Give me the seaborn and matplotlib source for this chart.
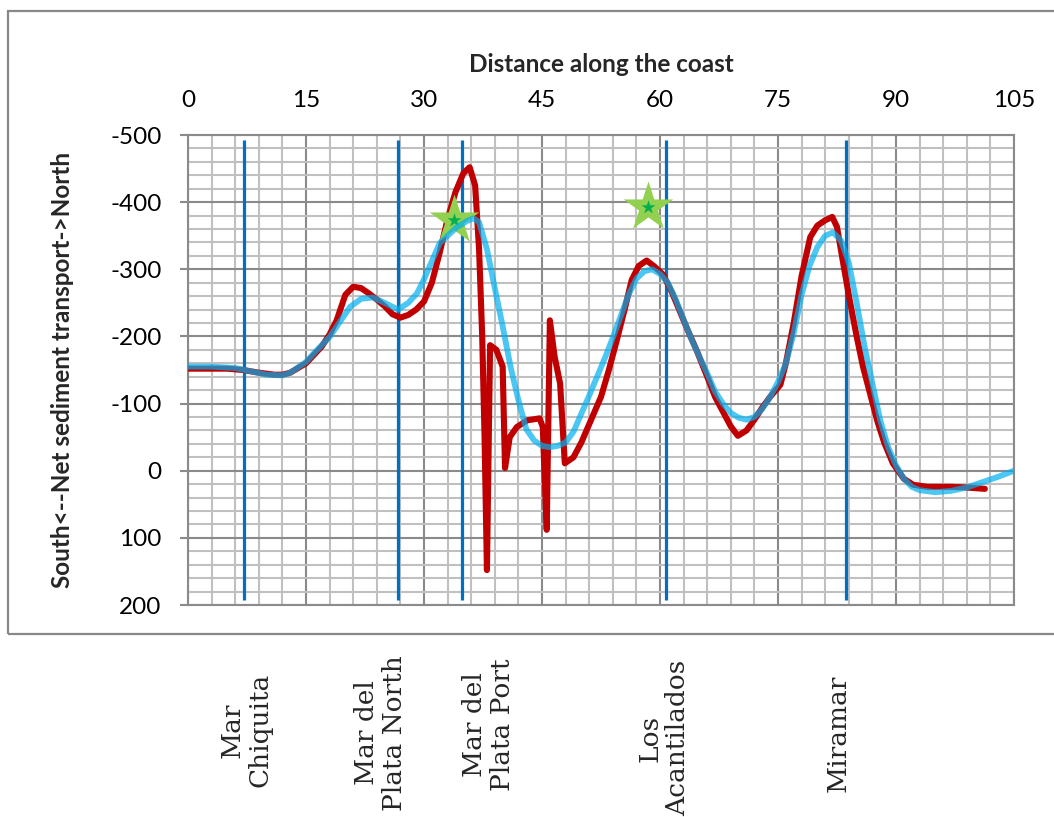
import numpy as np
import pandas as pd
import matplotlib
matplotlib.use("Agg")
import matplotlib.pyplot as plt
from matplotlib.ticker import MultipleLocator, FixedLocator
from matplotlib.patches import Rectangle
import seaborn as sns

# ---------------- data ----------------
blue_x = [0, 3, 6, 8, 10, 12, 13, 15, 16, 17, 18, 19.5, 20.6, 22, 23.5, 25, 26.7,
          28, 29.1, 30, 32, 34.2, 35.5, 36.3, 37, 38, 39, 40, 41, 42, 43, 44, 45, 46,
          47, 48, 49, 50, 51, 52, 53, 54, 55, 56, 57, 58, 59, 60, 61, 62, 63, 64, 65,
          66, 67, 68, 69, 70, 71, 72, 73, 74, 75, 76, 77, 78, 79, 80, 81, 82, 83, 84,
          85, 86, 87, 88, 89, 90, 91, 92, 93, 95, 97, 99, 101, 103, 105]
blue_y = [-155, -155, -153, -148, -143, -142, -146, -162, -175, -187, -199, -225, -244,
          -256, -258, -250, -240, -250, -264, -285, -339, -363, -372, -376, -370, -330,
          -272, -215, -155, -105, -62, -45, -37, -35, -37, -42, -58, -85, -112, -140,
          -168, -198, -230, -262, -286, -297, -300, -293, -280, -255, -225, -196, -170,
          -145, -118, -100, -86, -79, -76, -80, -92, -110, -132, -160, -205, -262, -305,
          -333, -350, -355, -343, -310, -250, -185, -130, -75, -35, -8, 12, 24, 29, 32,
          30, 25, 17, 9, 0]

red_x = [0, 5, 7, 9, 11, 12, 13, 15, 17, 18, 18.9, 20, 21, 22, 23, 24, 25, 26, 27, 28,
         29, 30, 31, 32, 33, 34, 35, 35.8, 36.5, 37.0, 37.4, 37.7, 38.0, 38.4, 39.2,
         40.0, 40.3, 40.9, 41.8, 43.1, 44.7, 45.1, 45.6, 46.0, 46.6, 47.3, 47.9, 49.0,
         50.0, 51.1, 52.5, 53.5, 54.5, 55.5, 56.4, 57.3, 58.3, 59.2, 60.4, 61.5, 62.5,
         63.5, 64.7, 66, 67, 68, 69, 69.9, 71, 72, 73, 74, 75.3, 76, 77, 78, 79.1, 80,
         81, 81.9, 82.5, 83.2, 84.1, 85, 85.8, 86.7, 87.6, 88.5, 89.6, 91, 92.2, 94,
         96.9, 99, 101.3]
red_y = [-152, -152, -150, -146, -143, -143, -146, -160, -185, -203, -224, -262, -274,
         -272, -264, -255, -245, -233, -228, -232, -240, -252, -280, -325, -375, -415,
         -443, -452, -425, -330, -200, -50, 148, -187, -180, -155, -4, -50, -65, -75,
         -78, -65, 88, -224, -170, -130, -11, -20, -42, -72, -110, -150, -194, -240,
         -284, -305, -313, -305, -292, -266, -238, -210, -178, -140, -110, -88, -66, -52,
         -60, -76, -94, -110, -128, -160, -220, -290, -348, -365, -373, -378, -363, -315,
         -255, -200, -155, -115, -75, -42, -11, 12, 21, 24, 24, 25, 27]

star_x = [33.8, 58.5]
star_y = [-373, -393]

site_x = [7.1, 26.7, 34.8, 60.7, 83.7]
site_names = ["Mar\nChiquita", "Mar del\nPlata North", "Mar del\nPlata Port",
              "Los\nAcantilados", "Miramar"]

x_ticks = [0, 15, 30, 45, 60, 75, 90, 105]
y_ticks = [-500, -400, -300, -200, -100, 0, 100, 200]
y_ticklabels = ["-500", "-400", "-300", "-200", "-100", "0", "100", "200"]

# ---------------- styling ----------------
sns.set_theme(style="white")
plt.rcParams["font.family"] = ["Lato", "DejaVu Sans"]
plt.rcParams["axes.unicode_minus"] = False

W, H = 1054, 817
fig = plt.figure(figsize=(W / 100, H / 100), dpi=100)
ax = fig.add_axes([188 / W, 1 - 605 / H, (1014 - 188) / W, (605 - 135) / H])

# outer chart border
fig.patches.append(Rectangle((8 / W, 1 - 634 / H), (1070 - 8) / W, (634 - 11) / H,
                             transform=fig.transFigure, fill=False,
                             edgecolor="#888888", linewidth=1.6, zorder=0))

major_c, minor_c = "#8a8a8a", "#c0c0c0"
ax.set_xlim(0, 105)
ax.set_ylim(200, -500)
ax.xaxis.set_major_locator(FixedLocator(x_ticks))
ax.xaxis.set_minor_locator(MultipleLocator(3))
ax.yaxis.set_major_locator(FixedLocator(y_ticks))
ax.yaxis.set_minor_locator(MultipleLocator(20))
ax.set_yticklabels(y_ticklabels)
ax.grid(which="minor", color=minor_c, linewidth=1.5, zorder=0)
ax.grid(which="major", color=major_c, linewidth=1.5, zorder=0)
ax.set_axisbelow(True)
for s in ax.spines.values():
    s.set_color(major_c)
    s.set_linewidth(1.5)

ax.xaxis.tick_top()
ax.xaxis.set_label_position("top")
ax.tick_params(axis="x", which="both", length=0, pad=17, labelsize=17.5, colors="black")
ax.tick_params(axis="y", which="major", length=6, width=1.5, color=major_c, pad=13,
               labelsize=17.5, labelcolor="black", left=True)
ax.tick_params(axis="y", which="minor", length=0)

ax.set_xlabel("Distance along the coast", fontsize=17.5, fontweight="bold")
ax.xaxis.set_label_coords(0.5, 1 + (135 - 72) / 470)
ax.set_ylabel("South<--Net sediment transport->North", fontsize=17.5, fontweight="bold")
ax.yaxis.set_label_coords((74 - 188) / 826, 0.5)

# site marker lines
ax.vlines(site_x, 193, -493, color="#0070C0", linewidth=2.3, zorder=2)

# curves
sns.lineplot(x=red_x, y=red_y, color="#C00000", linewidth=4.4, ax=ax, sort=False,
             zorder=3, solid_joinstyle="round", solid_capstyle="round")
ax.scatter(star_x, star_y, marker="*", s=1400, color="#92D050", linewidths=0, zorder=4)
ax.scatter(star_x, star_y, marker="*", s=110, color="#00B050", linewidths=0, zorder=5)
sns.lineplot(x=blue_x, y=blue_y, color="#00B0F0", alpha=0.7, linewidth=4.2, ax=ax,
             sort=False, zorder=6, solid_joinstyle="round", solid_capstyle="round")

# site labels below the chart
label_pos = [(246, 730), (381, 733), (488, 725), (664, 738), (838, 733)]
for name, (px, py) in zip(site_names, label_pos):
    fig.text(px / W, 1 - py / H, name, rotation=90, ha="center", va="center",
             multialignment="center", fontsize=19, family="DejaVu Serif",
             linespacing=1.15)

fig.savefig("out.png", dpi=100)
